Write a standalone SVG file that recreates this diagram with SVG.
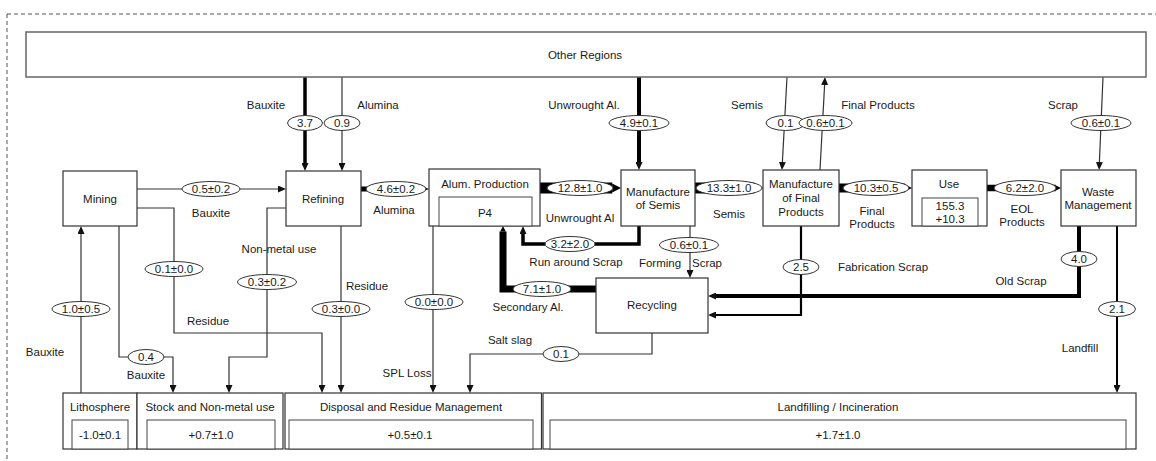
<svg xmlns="http://www.w3.org/2000/svg" width="1156" height="461" viewBox="0 0 1156 461">
  <style>
    text { font-family: "Liberation Sans", Arial, sans-serif; font-size: 11.5px; fill: #1a1a1a; text-anchor: middle; }
    .box { fill: #fff; stroke: #333; stroke-width: 1.2; }
    .inner { fill: #fff; stroke: #444; stroke-width: 1; }
    .ln { fill: none; stroke: #333; stroke-width: 1.2; }
    .tk { fill: none; stroke: #000; stroke-linejoin: miter; }
    .val { fill: #fff; stroke: #333; stroke-width: 1; }
  </style>
  <defs>
    <marker id="a" viewBox="0 0 8 7" markerUnits="userSpaceOnUse" markerWidth="8" markerHeight="7" refX="0" refY="3.5" orient="auto">
      <path d="M0,0 L8,3.5 L0,7 Z" fill="#111"/>
    </marker>
    <marker id="b" viewBox="0 0 10 10" markerUnits="strokeWidth" markerWidth="0.8" markerHeight="1.3" refX="0" refY="5" orient="auto">
      <path d="M0,0 L10,5 L0,10 Z" fill="#000"/>
    </marker>
  </defs>

  <rect x="0" y="0" width="1156" height="461" fill="#fff"/>
  <!-- system boundary -->
  <rect x="7" y="14" width="1170" height="470" fill="none" stroke="#555" stroke-width="1" stroke-dasharray="4,3"/>

  <!-- flows -->
  <g id="connectors">
    <path class="tk" d="M305,77 V163" stroke-width="3.5" marker-end="url(#a)"/>
    <path class="ln" d="M342,77 V163" marker-end="url(#a)"/>
    <path class="tk" d="M639,77 V162" stroke-width="4" marker-end="url(#a)"/>
    <path class="ln" d="M787,77 L782.4,162" marker-end="url(#a)"/>
    <path class="ln" d="M820,170 L824.6,85" marker-end="url(#a)"/>
    <path class="ln" d="M1103,77 L1099.4,162" marker-end="url(#a)"/>
    <path class="ln" d="M137,189 H278" marker-end="url(#a)"/>
    <path class="tk" d="M361,189 H421" stroke-width="5" marker-end="url(#a)"/>
    <path class="tk" d="M540,188 H612.2" stroke-width="11" marker-end="url(#b)"/>
    <path class="tk" d="M695,188 H754.2" stroke-width="11" marker-end="url(#b)"/>
    <path class="tk" d="M839,188 H904.8" stroke-width="9" marker-end="url(#b)"/>
    <path class="tk" d="M987,188 H1055.8" stroke-width="6.5" marker-end="url(#b)"/>
    <path class="ln" d="M137,208 H174 V333 H322 V385" marker-end="url(#a)"/>
    <path class="ln" d="M119,226 V357 H173 V385" marker-end="url(#a)"/>
    <path class="ln" d="M81,393 V234" marker-end="url(#a)"/>
    <path class="ln" d="M286,208 H267 V357 H229 V385" marker-end="url(#a)"/>
    <path class="ln" d="M341,226 V385" marker-end="url(#a)"/>
    <path class="tk" d="M639,226 V244 H523 V234" stroke-width="3.5" marker-end="url(#a)"/>
    <path class="ln" d="M690,226 V270" marker-end="url(#a)"/>
    <path class="tk" d="M801,226 V315 H716" stroke-width="2.2" marker-end="url(#a)"/>
    <path class="tk" d="M1079,226 V296 H716" stroke-width="4" marker-end="url(#a)"/>
    <path class="tk" d="M1117,226 V385" stroke-width="2" marker-end="url(#a)"/>
    <path class="tk" d="M596,289 H503 V231.6" stroke-width="7" marker-end="url(#b)"/>
    <path class="ln" d="M652,333 V354 H470 V385" marker-end="url(#a)"/>
    <path class="ln" d="M433,226 V385" marker-end="url(#a)"/>
  </g>

  <!-- processes -->
  <g id="other-regions">
    <rect x="26" y="32" width="1120" height="45" fill="#fff" stroke="#666" stroke-width="1.5"/>
    <text x="585" y="59">Other Regions</text>
  </g>
  <g id="mining">
    <rect class="box" x="63" y="171" width="74" height="55"/>
    <text x="100" y="203">Mining</text>
  </g>
  <g id="refining">
    <rect class="box" x="286" y="171" width="75" height="55"/>
    <text x="323" y="203">Refining</text>
  </g>
  <g id="alum-production">
    <rect class="box" x="429" y="169" width="111" height="57"/>
    <text x="485" y="188">Alum. Production</text>
    <rect class="inner" x="439" y="197" width="93" height="29"/>
    <text x="485" y="217">P4</text>
  </g>
  <g id="manufacture-semis">
    <rect class="box" x="621" y="170" width="74" height="56"/>
    <text x="658" y="196">Manufacture</text>
    <text x="658" y="209">of Semis</text>
  </g>
  <g id="manufacture-final">
    <rect class="box" x="763" y="170" width="76" height="56"/>
    <text x="801" y="188">Manufacture</text>
    <text x="801" y="202">of Final</text>
    <text x="801" y="216">Products</text>
  </g>
  <g id="use">
    <rect class="box" x="912" y="170" width="75" height="56"/>
    <text x="949" y="188">Use</text>
    <rect class="inner" x="922" y="198" width="56" height="28"/>
    <text x="950" y="210">155.3</text>
    <text x="950" y="223">+10.3</text>
  </g>
  <g id="waste-management">
    <rect class="box" x="1061" y="170" width="75" height="56"/>
    <text x="1098" y="196">Waste</text>
    <text x="1098" y="209">Management</text>
  </g>
  <g id="recycling">
    <rect class="box" x="596" y="278" width="112" height="55"/>
    <text x="652" y="309">Recycling</text>
  </g>

  <!-- sinks and stocks -->
  <g id="lithosphere">
    <rect class="box" x="63" y="393" width="74" height="56"/>
    <text x="100" y="411">Lithosphere</text>
    <rect class="inner" x="72" y="420" width="56" height="29"/>
    <text x="100" y="439">-1.0±0.1</text>
  </g>
  <g id="stock-non-metal">
    <rect class="box" x="137" y="393" width="146" height="56"/>
    <text x="210" y="411">Stock and Non-metal use</text>
    <rect class="inner" x="147" y="420" width="128" height="29"/>
    <text x="211" y="439">+0.7±1.0</text>
  </g>
  <g id="disposal">
    <rect class="box" x="285" y="393" width="256.5" height="56"/>
    <text x="411" y="411">Disposal and Residue Management</text>
    <rect class="inner" x="289" y="420" width="244" height="29"/>
    <text x="410" y="439">+0.5±0.1</text>
  </g>
  <g id="landfilling">
    <rect class="box" x="543" y="393" width="593" height="56"/>
    <text x="838" y="411">Landfilling / Incineration</text>
    <rect class="inner" x="550" y="420" width="576" height="29"/>
    <text x="838" y="439">+1.7±1.0</text>
  </g>

  <!-- flow values and names -->
  <g id="flow-labels">
    <ellipse class="val" cx="305" cy="123" rx="17.5" ry="7.5"/><text x="305" y="127">3.7</text>
    <ellipse class="val" cx="342" cy="123" rx="18" ry="7.5"/><text x="342" y="127">0.9</text>
    <ellipse class="val" cx="639" cy="123" rx="30" ry="7.5"/><text x="639" y="127">4.9±0.1</text>
    <ellipse class="val" cx="785.5" cy="123" rx="19.5" ry="7.5"/><text x="785.5" y="127">0.1</text>
    <ellipse class="val" cx="825.5" cy="123" rx="26.5" ry="7.5"/><text x="825.5" y="127">0.6±0.1</text>
    <ellipse class="val" cx="1101" cy="123" rx="30" ry="7.5"/><text x="1101" y="127">0.6±0.1</text>
    <ellipse class="val" cx="211" cy="189" rx="29" ry="7.5"/><text x="211" y="193">0.5±0.2</text>
    <ellipse class="val" cx="396" cy="189" rx="30" ry="7.5"/><text x="396" y="193">4.6±0.2</text>
    <ellipse class="val" cx="580" cy="188" rx="33" ry="7.5"/><text x="580" y="192">12.8±1.0</text>
    <ellipse class="val" cx="729" cy="188" rx="33" ry="7.5"/><text x="729" y="192">13.3±1.0</text>
    <ellipse class="val" cx="876" cy="188" rx="33" ry="7.5"/><text x="876" y="192">10.3±0.5</text>
    <ellipse class="val" cx="1025" cy="188" rx="31" ry="7.5"/><text x="1025" y="192">6.2±2.0</text>
    <ellipse class="val" cx="174" cy="269" rx="29" ry="7.5"/><text x="174" y="273">0.1±0.0</text>
    <ellipse class="val" cx="267" cy="282" rx="29.5" ry="7.5"/><text x="267" y="286">0.3±0.2</text>
    <ellipse class="val" cx="341" cy="309" rx="29" ry="7.5"/><text x="341" y="313">0.3±0.0</text>
    <ellipse class="val" cx="81" cy="309" rx="29" ry="7.5"/><text x="81" y="313">1.0±0.5</text>
    <ellipse class="val" cx="146" cy="357" rx="18" ry="7.5"/><text x="146" y="361">0.4</text>
    <ellipse class="val" cx="570" cy="244" rx="25" ry="7.5"/><text x="570" y="248">3.2±2.0</text>
    <ellipse class="val" cx="689" cy="245" rx="29.5" ry="7.5"/><text x="689" y="249">0.6±0.1</text>
    <ellipse class="val" cx="801" cy="267" rx="18" ry="7.5"/><text x="801" y="271">2.5</text>
    <ellipse class="val" cx="1079" cy="259" rx="18" ry="7.5"/><text x="1079" y="263">4.0</text>
    <ellipse class="val" cx="1117" cy="309" rx="18.5" ry="7.5"/><text x="1117" y="313">2.1</text>
    <ellipse class="val" cx="542" cy="289" rx="29" ry="7.5"/><text x="542" y="293">7.1±1.0</text>
    <ellipse class="val" cx="561" cy="354" rx="18" ry="7.5"/><text x="561" y="358">0.1</text>
    <ellipse class="val" cx="434" cy="302" rx="29" ry="7.5"/><text x="434" y="306">0.0±0.0</text>

    <text x="266" y="109">Bauxite</text>
    <text x="378" y="109">Alumina</text>
    <text x="584" y="109">Unwrought Al.</text>
    <text x="747" y="109">Semis</text>
    <text x="878" y="109">Final Products</text>
    <text x="1063" y="109">Scrap</text>
    <text x="211" y="217">Bauxite</text>
    <text x="394" y="214">Alumina</text>
    <text x="580" y="222">Unwrought Al</text>
    <text x="729" y="218">Semis</text>
    <text x="872" y="215">Final</text>
    <text x="872" y="228">Products</text>
    <text x="1022" y="213">EOL</text>
    <text x="1022" y="226">Products</text>
    <text x="279" y="253">Non-metal use</text>
    <text x="367" y="290">Residue</text>
    <text x="208" y="325">Residue</text>
    <text x="45" y="356">Bauxite</text>
    <text x="146" y="379">Bauxite</text>
    <text x="576" y="266">Run around Scrap</text>
    <text x="660" y="267">Forming</text>
    <text x="707" y="267">Scrap</text>
    <text x="883" y="271">Fabrication Scrap</text>
    <text x="1021" y="285">Old Scrap</text>
    <text x="528" y="311">Secondary Al.</text>
    <text x="510" y="344">Salt slag</text>
    <text x="407" y="377">SPL Loss</text>
    <text x="1080" y="352">Landfill</text>
  </g>
</svg>
